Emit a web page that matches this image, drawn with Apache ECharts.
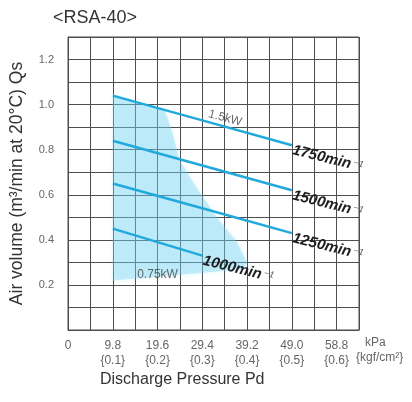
<!DOCTYPE html>
<html>
<head>
<meta charset="utf-8">
<script src="https://cdn.jsdelivr.net/npm/echarts@6/dist/echarts.min.js"></script>
<style>
  html, body { margin: 0; padding: 0; background: #fff; }
  #chart { width: 412px; height: 402px; }
</style>
</head>
<body>
<div id="chart"></div>
<script>
// Discharge pressure ticks (kPa) and their kgf/cm² equivalents
const kpaTicks = ['0', '9.8', '19.6', '29.4', '39.2', '49.0', '58.8'];
const kgfTicks = ['', '{0.1}', '{0.2}', '{0.3}', '{0.4}', '{0.5}', '{0.6}'];
const flowTicks = ['0.2', '0.4', '0.6', '0.8', '1.0', '1.2'];

// Rotational speeds (min⁻¹) of each performance curve
const speeds = [1750, 1500, 1250, 1000];

// Discharge pressure (kPa) sample points of each curve
const pressure1750 = [9.8, 29.4, 49.0];
const pressure1500 = [9.8, 29.4, 49.0];
const pressure1250 = [9.8, 29.4, 49.0];
const pressure1000 = [9.8, 19.6, 29.4];

// Air volume Qs (m³/min) at those pressures
const flow1750 = [1.04, 0.93, 0.82];
const flow1500 = [0.84, 0.73, 0.62];
const flow1250 = [0.65, 0.54, 0.43];
const flow1000 = [0.45, 0.39, 0.33];

// Boundary of the 0.75kW motor operating range
const rangePressure = [9.8, 21.2, 22.8, 24.5, 28.2, 32.6, 37.0, 39.2, 38.5, 9.8];
const rangeFlow     = [1.04, 0.975, 0.88, 0.75, 0.63, 0.50, 0.39, 0.30, 0.27, 0.22];

const curves = [
  { speed: speeds[0], x: pressure1750, y: flow1750 },
  { speed: speeds[1], x: pressure1500, y: flow1500 },
  { speed: speeds[2], x: pressure1250, y: flow1250 },
  { speed: speeds[3], x: pressure1000, y: flow1000 }
];

const FONT = '"Liberation Sans", Arial, sans-serif';
const LINE_COLOR = '#22a9dc';
const GRID_COLOR = '#4d4d4d';

function curveSeries(c) {
  const data = c.x.map((x, i) => {
    const item = { value: [x, c.y[i]] };
    if (i === c.x.length - 1) {
      item.label = {
        show: true,
        position: 'right',
        rotate: -14,
        distance: 2,
        offset: [0, 5],
        formatter: '{n|' + c.speed + 'min}{e|−1}',
        rich: {
          n: { fontFamily: FONT, fontSize: 15, fontWeight: 'bold', fontStyle: 'italic', color: '#1e1e1e' },
          e: { fontFamily: FONT, fontSize: 9, fontStyle: 'italic', color: '#555', padding: [0, 0, 5, 2] }
        }
      };
    }
    return item;
  });
  return {
    type: 'line',
    name: c.speed + 'min-1',
    data: data,
    symbol: 'circle',
    symbolSize: 0,
    showSymbol: true,
    lineStyle: { color: LINE_COLOR, width: 2.5 },
    itemStyle: { color: LINE_COLOR },
    label: { show: false },
    z: 5,
    silent: true,
    animation: false
  };
}

const rangeData = rangePressure.map((x, i) => [x, rangeFlow[i]]);

const chart = echarts.init(document.getElementById('chart'), null, { renderer: 'canvas' });

const option = {
  backgroundColor: '#ffffff',
  animation: false,
  title: {
    text: '<RSA-40>',
    left: 48,
    top: 4,
    textStyle: { fontFamily: FONT, fontSize: 18, fontWeight: 'normal', color: '#333' }
  },
  grid: {
    left: 68, right: 53, top: 37, bottom: 72,
    show: true, borderColor: GRID_COLOR, borderWidth: 1
  },
  xAxis: {
    type: 'value',
    min: 0,
    max: 63.7,
    interval: 4.9,
    axisLine: { show: true, lineStyle: { color: GRID_COLOR, width: 1 } },
    axisTick: { show: false },
    splitLine: { show: true, lineStyle: { color: GRID_COLOR, width: 1 } },
    axisLabel: {
      show: true,
      margin: 8,
      fontFamily: FONT,
      fontSize: 12,
      lineHeight: 15,
      color: '#666',
      showMinLabel: true,
      showMaxLabel: true,
      formatter: function (v) {
        const idx = Math.round(v / 4.9);
        if (idx % 2 !== 0) return '';
        const k = idx / 2;
        if (k >= kpaTicks.length) return '';
        return kgfTicks[k] ? kpaTicks[k] + '\n' + kgfTicks[k] : kpaTicks[k];
      }
    }
  },
  yAxis: {
    type: 'value',
    min: 0,
    max: 1.3,
    interval: 0.1,
    name: 'Air volume (m³/min at 20°C) Qs',
    nameLocation: 'middle',
    nameGap: 42,
    nameTextStyle: { fontFamily: FONT, fontSize: 17.5, color: '#333' },
    axisLine: { show: true, lineStyle: { color: GRID_COLOR, width: 1 } },
    axisTick: { show: false },
    splitLine: { show: true, lineStyle: { color: GRID_COLOR, width: 1 } },
    axisLabel: {
      margin: 14,
      fontFamily: FONT,
      fontSize: 11,
      color: '#666',
      formatter: function (v) {
        const idx = Math.round(v * 10);
        if (idx === 0 || idx % 2 !== 0) return '';
        return flowTicks[idx / 2 - 1] || '';
      }
    }
  },
  graphic: [
    {
      type: 'text', left: 100, top: 372,
      style: { text: 'Discharge Pressure Pd', fontFamily: FONT, fontSize: 16, fill: '#333' }
    },
    {
      type: 'text', left: 365, top: 337,
      style: { text: 'kPa', fontFamily: FONT, fontSize: 12, fill: '#666' }
    },
    {
      type: 'text', left: 356, top: 352,
      style: { text: '{kgf/cm²}', fontFamily: FONT, fontSize: 12, fill: '#666' }
    }
  ],
  series: [
    {
      type: 'custom',
      name: '0.75kW range',
      silent: true,
      z: 2,
      renderItem: function (params, api) {
        if (params.dataIndex !== 0) return null;
        const pts = rangeData.map(p => api.coord(p));
        return {
          type: 'polygon',
          shape: { points: pts },
          style: {
            fill: 'rgba(110, 210, 242, 0.36)',
            shadowBlur: 5,
            shadowColor: 'rgba(110, 210, 242, 0.45)'
          }
        };
      },
      data: rangeData
    },
    ...curves.map(curveSeries),
    {
      type: 'scatter',
      name: 'power',
      symbolSize: 0,
      silent: true,
      z: 6,
      label: {
        show: true,
        position: 'inside',
        fontFamily: FONT,
        fontSize: 12,
        color: '#444',
        formatter: function (p) { return p.name; }
      },
      data: [
        { name: '1.5kW', value: [34.4, 0.94], label: { rotate: -15 } },
        { name: '0.75kW', value: [19.6, 0.245] }
      ]
    }
  ]
};

chart.setOption(option);
</script>
</body>
</html>
